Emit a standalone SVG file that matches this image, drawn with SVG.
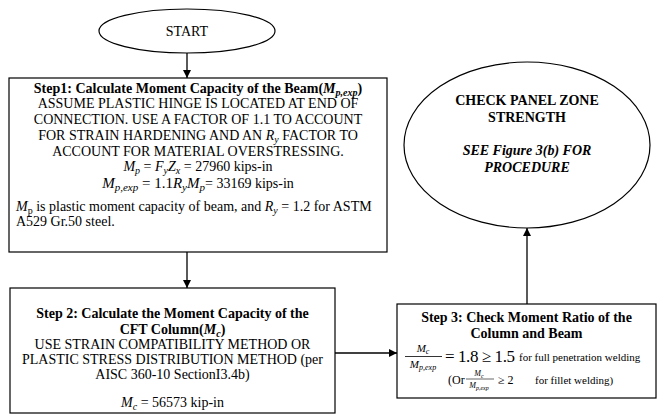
<svg xmlns="http://www.w3.org/2000/svg" width="661" height="416" viewBox="0 0 661 416">
  <style>
    .shape { fill: #ffffff; stroke: #000000; stroke-width: 1.2; }
    .edge { fill: none; stroke: #000000; stroke-width: 1.3; }
    text { font-family: "Liberation Serif", "Times New Roman", serif; font-size: 14px; fill: #000000; }
    .c { text-anchor: middle; }
    .b { font-weight: bold; }
    .i { font-style: italic; }
    .sub { font-size: 10px; }
    .rule { stroke: #000000; }
  </style>
  <defs>
    <marker id="arrow" viewBox="0 0 10 10" refX="10" refY="5" markerWidth="8" markerHeight="8" markerUnits="userSpaceOnUse" orient="auto">
      <path d="M0,0 L10,5 L0,10 Z" fill="#000000"/>
    </marker>
  </defs>

  <!-- connectors -->
  <g id="connectors">
    <line class="edge" x1="187" y1="53" x2="187" y2="78" marker-end="url(#arrow)"/>
    <line class="edge" x1="187" y1="252" x2="187" y2="288" marker-end="url(#arrow)"/>
    <line class="edge" x1="335" y1="353" x2="397" y2="353" marker-end="url(#arrow)"/>
    <line class="edge" x1="527" y1="304" x2="527" y2="228" marker-end="url(#arrow)"/>
  </g>

  <!-- start terminal -->
  <g id="start">
    <ellipse class="shape" cx="187" cy="31" rx="88" ry="22"/>
    <text class="c" x="187" y="36">START</text>
  </g>

  <!-- step 1: beam moment capacity -->
  <g id="step1">
    <rect class="shape" x="9" y="78" width="378" height="174"/>
    <text class="c b" x="198" y="93">Step1: Calculate Moment Capacity of the Beam(<tspan class="i">M</tspan><tspan class="i sub" dy="2.5">p,exp</tspan><tspan dy="-2.5">)</tspan></text>
    <text class="c" x="198" y="108">ASSUME PLASTIC HINGE IS LOCATED AT END OF</text>
    <text class="c" x="198" y="124">CONNECTION. USE A FACTOR OF 1.1 TO ACCOUNT</text>
    <text class="c" x="198" y="140">FOR STRAIN HARDENING AND AN <tspan class="i">R</tspan><tspan class="i sub" dy="2.5">y</tspan><tspan dy="-2.5"> FACTOR TO</tspan></text>
    <text class="c" x="198" y="156">ACCOUNT FOR MATERIAL OVERSTRESSING.</text>
    <text class="c" x="198" y="171"><tspan class="i">M</tspan><tspan class="i sub" dy="2.5">p</tspan><tspan dy="-2.5"> = </tspan><tspan class="i">F</tspan><tspan class="i sub" dy="2.5">y</tspan><tspan class="i" dy="-2.5">Z</tspan><tspan class="i sub" dy="2.5">x</tspan><tspan dy="-2.5"> = 27960 kips-in</tspan></text>
    <text class="c" x="198" y="188"><tspan class="i" style="font-size:15px">M</tspan><tspan class="i" style="font-size:11px" dy="2.5">p,exp</tspan><tspan style="font-size:15px" dy="-2.5"> = 1.1</tspan><tspan class="i" style="font-size:15px">R</tspan><tspan class="i" style="font-size:11px" dy="2.5">y</tspan><tspan class="i" style="font-size:15px" dy="-2.5">M</tspan><tspan class="i" style="font-size:11px" dy="2.5">p</tspan><tspan dy="-2.5">= 33169 kips-in</tspan></text>
    <text x="16" y="211"><tspan class="i">M</tspan><tspan class="sub" dy="2.5">p</tspan><tspan dy="-2.5"> is plastic moment capacity of beam, and </tspan><tspan class="i">R</tspan><tspan class="i sub" dy="2.5">y</tspan><tspan dy="-2.5"> = 1.2 for ASTM</tspan></text>
    <text x="16" y="226">A529 Gr.50 steel.</text>
  </g>

  <!-- step 2: column moment capacity -->
  <g id="step2">
    <rect class="shape" x="10" y="288" width="325" height="125"/>
    <text class="c b" x="172.5" y="318">Step 2: Calculate the Moment Capacity of the</text>
    <text class="c b" x="172.5" y="334">CFT Column(<tspan class="i">M</tspan><tspan class="i sub" dy="2.5">c</tspan><tspan dy="-2.5">)</tspan></text>
    <text class="c" x="172.5" y="349">USE STRAIN COMPATIBILITY METHOD OR</text>
    <text class="c" x="172.5" y="364">PLASTIC STRESS DISTRIBUTION METHOD (per</text>
    <text class="c" x="172.5" y="379">AISC 360-10 SectionI3.4b)</text>
    <text class="c" x="172.5" y="407"><tspan class="i">M</tspan><tspan class="i sub" dy="2.5">c</tspan><tspan dy="-2.5"> = 56573 kip-in</tspan></text>
  </g>

  <!-- step 3: moment ratio check -->
  <g id="step3">
    <rect class="shape" x="397" y="304" width="259" height="94"/>
    <text class="c b" x="526.5" y="322">Step 3: Check Moment Ratio of  the</text>
    <text class="c b" x="526.5" y="338">Column and Beam</text>
    <!-- Mc / Mp,exp fraction -->
    <text class="c i" x="423" y="352" style="font-size:11px">M<tspan style="font-size:8px" dy="2">c</tspan></text>
    <line class="rule" x1="405" y1="356.5" x2="442" y2="356.5" stroke-width="0.8"/>
    <text class="c i" x="423" y="368" style="font-size:11px">M<tspan style="font-size:8px" dy="2">p,exp</tspan></text>
    <text x="445" y="362" style="font-size:17px" textLength="70" lengthAdjust="spacing">= 1.8 ≥ 1.5</text>
    <text x="519" y="361" style="font-size:11px">for full penetration welding</text>
    <!-- fillet welding alternative -->
    <text x="448" y="384" style="font-size:12px">(Or</text>
    <text class="c i" x="479" y="376" style="font-size:8px">M<tspan style="font-size:6px" dy="1.5">c</tspan></text>
    <line class="rule" x1="466" y1="379" x2="494" y2="379" stroke-width="0.6"/>
    <text class="c i" x="479" y="388" style="font-size:8px">M<tspan style="font-size:6px" dy="1.5">p,exp</tspan></text>
    <text x="498" y="384" style="font-size:12px">≥ 2</text>
    <text x="535" y="384" style="font-size:11px">for fillet welding)</text>
  </g>

  <!-- panel zone terminal -->
  <g id="panel-zone">
    <ellipse class="shape" cx="527" cy="145" rx="123" ry="83"/>
    <text class="c b" x="527" y="105">CHECK PANEL ZONE</text>
    <text class="c b" x="527" y="122">STRENGTH</text>
    <text class="c b i" x="527" y="155">SEE Figure 3(b) FOR</text>
    <text class="c b i" x="527" y="172">PROCEDURE</text>
  </g>
</svg>
